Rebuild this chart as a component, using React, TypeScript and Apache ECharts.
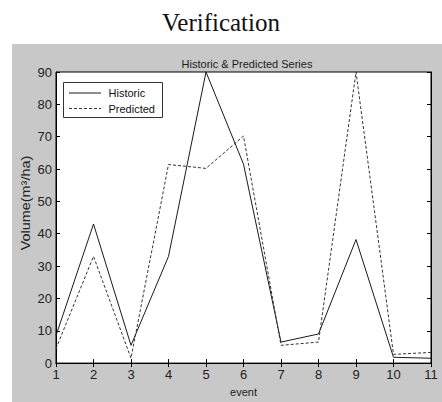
import React, { useEffect, useRef } from "react";
import * as echarts from "echarts";

const events = [1, 2, 3, 4, 5, 6, 7, 8, 9, 10, 11];
const historic = [8.5, 43, 5.5, 33, 90, 61.5, 6.5, 9, 38.2, 1.8, 1.5];
const predicted = [4.5, 33, 1.5, 61.4, 60.2, 70.2, 5.5, 6.5, 90, 2.7, 3.3];
const yTicks = [0, 10, 20, 30, 40, 50, 60, 70, 80, 90];
const seriesNames = ["Historic", "Predicted"];

export default function App() {
  const ref = useRef<HTMLDivElement>(null);
  useEffect(() => {
    if (!ref.current) return;
    const chart = echarts.init(ref.current, undefined, { renderer: "svg" });
    const font = "Arial, 'Liberation Sans', sans-serif";
    const tickStyle = { show: true, inside: true, length: 4, lineStyle: { color: "#000", width: 1 } };
    const histColor = "#1a1a1a";
    const predColor = "#333";
    chart.setOption({
      animation: false,
      backgroundColor: "#fff",
      title: [
        {
          text: "Verification",
          left: "center",
          top: 5,
          textStyle: { fontFamily: "'Liberation Serif', serif", fontSize: 25, fontWeight: "normal", color: "#111" },
        },
        {
          text: "Historic & Predicted Series",
          left: 242,
          textAlign: "center",
          top: 53,
          textStyle: { fontFamily: font, fontSize: 11, fontWeight: "normal", color: "#222" },
        },
      ],
      graphic: [
        { type: "rect", z: -10, shape: { x: 12, y: 44, width: 430, height: 358 }, style: { fill: "#c8c8c8" } },
        {
          type: "text",
          x: 26,
          y: 203,
          rotation: Math.PI / 2,
          scaleX: 1.2,
          style: { text: "Volume(m³/ha)", font: "12px " + font, fill: "#222", align: "center", verticalAlign: "middle" },
        },
        {
          type: "group",
          z: 100,
          children: [
            { type: "rect", shape: { x: 63.5, y: 82.5, width: 99, height: 35 }, style: { fill: "#fff", stroke: "#333", lineWidth: 1 } },
            { type: "line", shape: { x1: 69, y1: 93, x2: 101, y2: 93 }, style: { stroke: histColor, lineWidth: 1 } },
            { type: "line", shape: { x1: 69, y1: 108.5, x2: 101, y2: 108.5 }, style: { stroke: predColor, lineWidth: 1, lineDash: [3, 2] } },
            { type: "text", x: 108.5, y: 93, style: { text: seriesNames[0], font: "11px " + font, fill: "#111", verticalAlign: "middle" } },
            { type: "text", x: 108.5, y: 108.5, style: { text: seriesNames[1], font: "11px " + font, fill: "#111", verticalAlign: "middle" } },
          ],
        },
      ],
      grid: {
        left: 56,
        top: 72,
        width: 375,
        height: 294,
        show: true,
        backgroundColor: "#fff",
        borderColor: "#000",
        borderWidth: 1,
      },
      xAxis: [
        {
          type: "value",
          min: 1,
          max: 11,
          interval: 1,
          position: "bottom",
          name: "event",
          nameLocation: "middle",
          nameGap: 21,
          nameTextStyle: { fontFamily: font, fontSize: 11, color: "#222" },
          axisLine: { show: true, lineStyle: { color: "#000" } },
          axisTick: tickStyle,
          axisLabel: { fontFamily: font, fontSize: 13, color: "#222", margin: 5 },
          splitLine: { show: false },
        },
        {
          type: "value",
          min: 1,
          max: 11,
          interval: 1,
          position: "top",
          axisLine: { show: true, lineStyle: { color: "#000" } },
          axisTick: tickStyle,
          axisLabel: { show: false },
          splitLine: { show: false },
        },
      ],
      yAxis: [
        {
          type: "value",
          min: yTicks[0],
          max: yTicks[yTicks.length - 1],
          interval: 10,
          position: "left",
          axisLine: { show: true, lineStyle: { color: "#000" } },
          axisTick: tickStyle,
          axisLabel: { fontFamily: font, fontSize: 13, color: "#222", margin: 4 },
          splitLine: { show: false },
        },
        {
          type: "value",
          min: yTicks[0],
          max: yTicks[yTicks.length - 1],
          interval: 10,
          position: "right",
          axisLine: { show: true, lineStyle: { color: "#000" } },
          axisTick: tickStyle,
          axisLabel: { show: false },
          splitLine: { show: false },
        },
      ],
      series: [
        {
          name: seriesNames[0],
          type: "line",
          symbol: "none",
          data: events.map((e, i) => [e, historic[i]]),
          lineStyle: { color: histColor, width: 1, type: "solid" },
        },
        {
          name: seriesNames[1],
          type: "line",
          symbol: "none",
          data: events.map((e, i) => [e, predicted[i]]),
          lineStyle: { color: predColor, width: 1, type: [3, 2] },
        },
      ],
    });
    return () => chart.dispose();
  }, []);
  return (
    <div
      ref={ref}
      style={{ position: "fixed", left: 0, top: 0, width: 442, height: 402 }}
    />
  );
}
